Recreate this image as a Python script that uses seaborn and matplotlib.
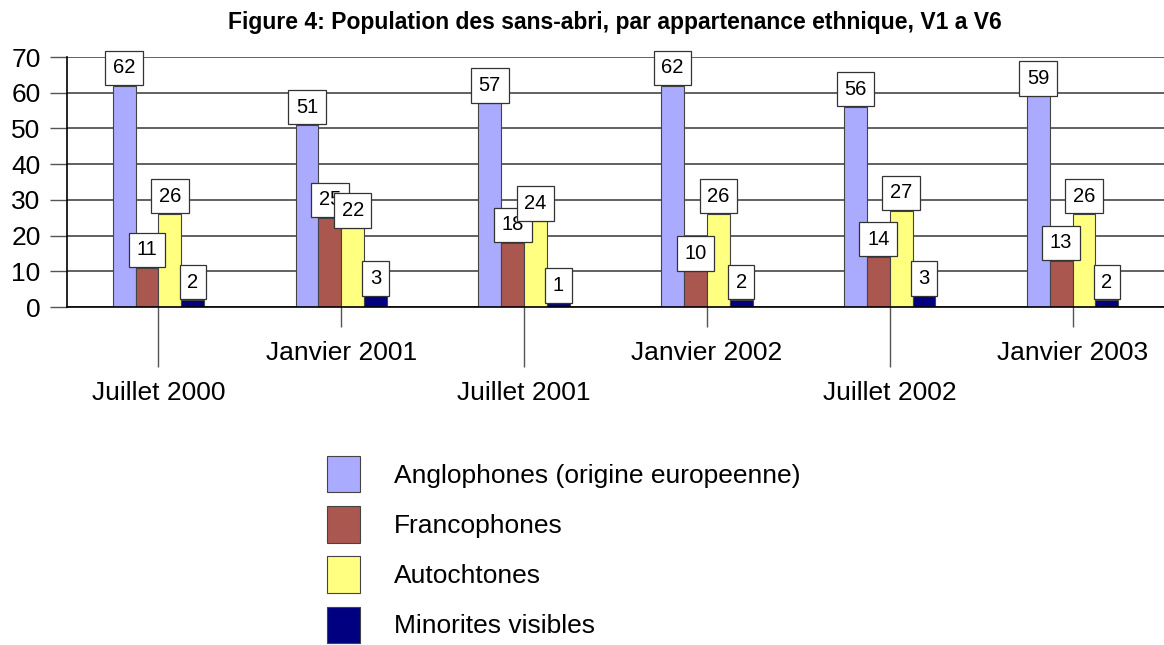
import pandas as pd
import matplotlib
matplotlib.use('Agg')
import matplotlib.pyplot as plt
import seaborn as sns

# --- Data ---
periods = ['Juillet 2000', 'Janvier 2001', 'Juillet 2001',
           'Janvier 2002', 'Juillet 2002', 'Janvier 2003']
groups = ['Anglophones (origine europeenne)', 'Francophones',
          'Autochtones', 'Minorites visibles']
anglophones = [62, 51, 57, 62, 56, 59]
francophones = [11, 25, 18, 10, 14, 13]
autochtones = [26, 22, 24, 26, 27, 26]
minorites = [2, 3, 1, 2, 3, 2]
colors = ['#AAAAFF', '#A9574F', '#FFFF80', '#000080']

rows = []
for g, vals in zip(groups, [anglophones, francophones, autochtones, minorites]):
    for p, v in zip(periods, vals):
        rows.append({'period': p, 'group': g, 'value': v})
df = pd.DataFrame(rows)

# --- Style ---
sns.set_style('white')
plt.rcParams['font.family'] = ['Liberation Sans', 'DejaVu Sans']
plt.rcParams['text.color'] = 'black'
plt.rcParams['xtick.labelcolor'] = 'black'
plt.rcParams['ytick.labelcolor'] = 'black'

fig = plt.figure(figsize=(11.64, 6.45), dpi=100)
ax = fig.add_axes([0.0576, 0.524, 0.9424, 0.3876])

sns.barplot(data=df, x='period', y='value', hue='group', order=periods,
            hue_order=groups, palette=colors, saturation=1, width=0.5,
            edgecolor='#444444', linewidth=0.8, ax=ax, legend=True)

ax.set_xlim(-0.5, 5.5)
ax.set_ylim(0, 70)
ax.set_yticks(range(0, 71, 10))
ax.yaxis.grid(True, color='#555555', linewidth=1.3)
ax.set_axisbelow(True)
ax.tick_params(axis='y', labelsize=19, length=12, width=1, color='#555555',
               labelcolor='black', pad=7, left=True)
ax.set_xlabel('')
ax.set_ylabel('')

for side in ['top', 'right']:
    ax.spines[side].set_visible(False)
ax.spines['left'].set_color('black')
ax.spines['bottom'].set_color('black')
ax.spines['left'].set_linewidth(1.2)
ax.spines['bottom'].set_linewidth(1.2)

# staggered x labels: long ticks for Juillet, short for Janvier
ax.set_xticks([0, 2, 4])
ax.set_xticklabels(periods[0::2])
ax.set_xticks([1, 3, 5], minor=True)
ax.set_xticklabels(periods[1::2], minor=True)
ax.tick_params(axis='x', which='major', length=43, width=1, color='#555555',
               labelcolor='black', labelsize=19, pad=10, bottom=True)
ax.tick_params(axis='x', which='minor', length=14.5, width=1, color='#555555',
               labelcolor='black', labelsize=19, pad=10, bottom=True)

# value labels in boxes
for cont in ax.containers:
    for bar in cont:
        h = bar.get_height()
        ax.annotate(f'{int(h)}', xy=(bar.get_x() + bar.get_width() / 2, h),
                    xytext=(0, 6), textcoords='offset points',
                    ha='center', va='bottom', fontsize=14.5, color='black',
                    bbox=dict(boxstyle='square,pad=0.38', fc='white',
                              ec='#333333', lw=0.9),
                    annotation_clip=False, zorder=5)

# legend below
handles, labels = ax.get_legend_handles_labels()
ax.get_legend().remove()
fig.legend(handles, labels, loc='upper left', bbox_to_anchor=(327 / 1164, 1 - 456 / 645),
           frameon=False, fontsize=19, handlelength=1.25, handleheight=1.75,
           handletextpad=1.3, labelspacing=0.52, borderpad=0, borderaxespad=0)

fig.text(0.528, 1 - 22 / 645, 'Figure 4: Population des sans-abri, par appartenance ethnique, V1 a V6',
         ha='center', va='center', fontsize=16.5, fontweight='bold', color='black')

fig.savefig('out.png', dpi=100)
